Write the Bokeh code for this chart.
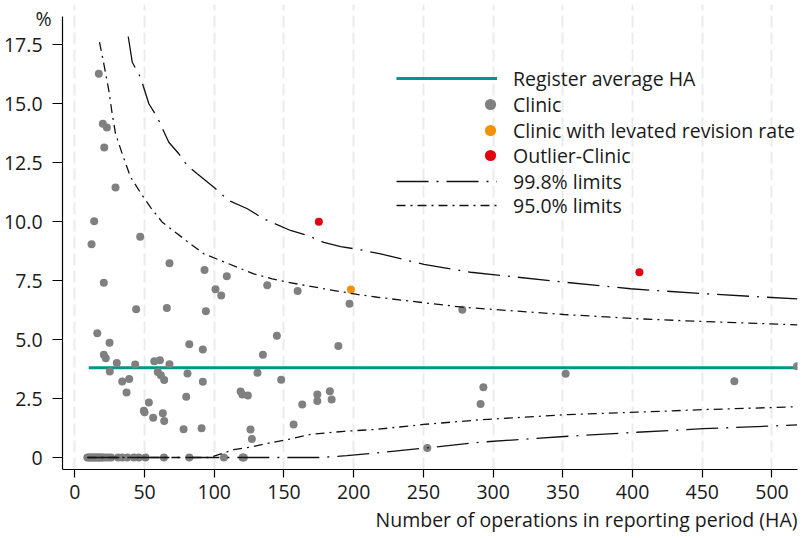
from bokeh.plotting import figure
from bokeh.models import Range1d, FixedTicker, Legend, LegendItem, Label, Title
from bokeh.embed import file_html
from bokeh.resources import INLINE

# ---- data ----
gray_x = [9, 10, 11, 12, 13, 14, 15, 16, 17, 18, 19, 20, 22, 24, 26, 31, 34, 37.6, 42.3, 45.9, 50.7, 63.9, 82.1, 106.9, 120.3, 121.2,
          17.2, 20.1, 23.0, 21.1, 29.2, 13.9, 46.9, 12.0, 20.8, 67.9, 44.0, 66.0, 16.1, 24.9, 20.8, 22.2, 30.1, 43.3, 25.1,
          57.0, 61.0, 67.9, 59.5, 61.7, 64.1, 39.0, 34.0, 37.1, 82.1, 80.8, 79.9, 53.1, 49.5, 50.0, 56.2, 63.1, 64.1, 78.0, 90.9,
          93.0, 109.0, 100.9, 105.0, 138.0, 159.8, 197.0, 94.0, 91.8, 144.9, 134.9, 189.0, 131.0, 91.8, 148.0, 118.9, 120.1,
          124.1, 173.9, 182.9, 173.9, 184.2, 163.1, 156.9, 126.0, 127.0,
          277.9, 518.0, 352.0, 473.0, 293.0, 291.0, 252.8]
gray_y = [0] * 26 + [
          16.26, 14.14, 13.98, 13.14, 11.44, 10.01, 9.35, 9.04, 7.40, 8.23, 6.28, 6.33, 5.27, 4.86, 4.35, 4.21, 4.00, 3.94, 3.64,
          4.08, 4.12, 3.95, 3.62, 3.49, 3.28, 3.33, 3.22, 2.75, 4.80, 3.56, 2.57, 2.33, 1.98, 1.92, 1.68, 1.88, 1.55, 1.20, 1.24,
          7.94, 7.68, 7.13, 6.86, 7.30, 7.06, 6.51, 6.20, 4.58, 5.16, 4.35, 4.72, 3.59, 3.21, 3.29, 2.80, 2.67,
          2.63, 2.67, 2.81, 2.39, 2.46, 2.25, 1.40, 1.19, 0.78,
          6.26, 3.87, 3.55, 3.23, 2.98, 2.27, 0.40]
orange_x = [198.0]
orange_y = [7.12]
red_x = [175.0, 404.9]
red_y = [9.99, 7.85]

avg_x = [10, 518]
avg_y = [3.8, 3.8]

up998_x = [38.3, 41.2, 47.1, 53.1, 59.1, 67.4, 74.6, 80.6, 87.8, 99.7, 110.5, 123.7, 135.6, 154.7, 166.7, 178.6, 190.6,
           204.9, 219.3, 250.4, 283.9, 350.8, 398.6, 451.2, 518.2]
up998_y = [17.84, 16.75, 16.11, 14.99, 14.42, 13.36, 12.87, 12.37, 12.02, 11.45, 10.89, 10.54, 10.11, 9.62, 9.41, 9.12, 8.94,
           8.80, 8.63, 8.18, 7.85, 7.43, 7.15, 6.94, 6.72]
lo998_x = [9, 176, 195, 215, 253, 291, 351, 403, 451, 518]
lo998_y = [0, 0, 0.08, 0.19, 0.41, 0.65, 0.89, 1.07, 1.22, 1.38]

up95_x = [17.7, 20.8, 24.4, 26.8, 29.2, 34, 40, 48.4, 54.3, 62.7, 73.5, 83, 92.5, 104.5, 116.5, 128.4, 141.6, 152.4,
          178.6, 202.6, 216.9, 277.9, 350.8, 403.4, 451.2, 518.2]
up95_y = [17.6, 16.68, 15.55, 14.56, 13.72, 12.87, 11.88, 11.10, 10.6, 9.97, 9.48, 9.05, 8.63, 8.35, 8.06, 7.78, 7.57, 7.43,
          7.15, 6.91, 6.79, 6.37, 6.06, 5.88, 5.76, 5.62]
lo95_x = [9, 97, 114, 126, 140, 155, 169, 193, 216, 250, 291, 351, 403, 451, 518]
lo95_y = [0, 0, 0.33, 0.44, 0.62, 0.79, 0.98, 1.11, 1.19, 1.40, 1.60, 1.81, 1.92, 2.03, 2.15]

x_ticks = [0, 50, 100, 150, 200, 250, 300, 350, 400, 450, 500]
y_ticks = [0, 2.5, 5.0, 7.5, 10.0, 12.5, 15.0, 17.5]
y_tick_labels = ["0", "2.5", "5.0", "7.5", "10.0", "12.5", "15.0", "17.5"]

X_MIN, X_MAX = -8.8, 518.29
Y_MIN, Y_MAX = -0.508, 18.69

FONT = "Open Sans"
FS = "19.5px"
TXT = "#1a1a1a"

p = figure(width=805, height=538, output_backend="svg", toolbar_location=None,
           x_range=Range1d(-50.43, X_MAX), y_range=Range1d(Y_MIN, 19.195),
           min_border_left=4, min_border_right=8, min_border_top=4, min_border_bottom=69)
p.outline_line_color = None
p.background_fill_color = "white"

# grid
p.xgrid.ticker = FixedTicker(ticks=x_ticks)
p.xgrid.grid_line_color = "#ebebeb"
p.xgrid.grid_line_width = 2
p.xgrid.grid_line_dash = "12 5"
p.ygrid.grid_line_color = None

# axes
for ax in (p.xaxis[0], p.yaxis[0]):
    ax.axis_line_color = "black"
    ax.axis_line_width = 1.2
    ax.major_tick_line_color = "black"
    ax.major_tick_line_width = 1.2
    ax.major_tick_in = 0
    ax.minor_tick_line_color = None
    ax.major_label_text_font = FONT
    ax.major_label_text_font_size = FS
    ax.major_label_text_color = TXT

p.xaxis.major_tick_out = 8
p.yaxis.major_tick_out = 10
p.xaxis.bounds = (X_MIN, X_MAX)
p.yaxis.bounds = (Y_MIN, Y_MAX)
p.yaxis.fixed_location = X_MIN
p.xaxis.ticker = FixedTicker(ticks=x_ticks)
p.yaxis.ticker = FixedTicker(ticks=y_ticks)
p.yaxis.major_label_overrides = {t: l for t, l in zip(y_ticks, y_tick_labels)}
p.xaxis.major_label_standoff = 7
p.yaxis.major_label_standoff = 10

p.add_layout(Title(text="Number of operations in reporting period (HA)", align="right",
                   text_font=FONT, text_font_size=FS, text_font_style="normal",
                   text_color=TXT, standoff=4, offset=0), "below")

p.add_layout(Label(x=-22.5, y=18.6, text="%", text_align="center", text_baseline="middle",
                   text_font=FONT, text_font_size=FS, text_color=TXT))

# marks
r_avg = p.line(avg_x, avg_y, line_color="#00968a", line_width=3)
r_gray = p.scatter(gray_x, gray_y, size=8, fill_color="#808080", line_color=None)
r_orange = p.scatter(orange_x, orange_y, size=8, fill_color="#f39200", line_color=None)
r_red = p.scatter(red_x, red_y, size=8, fill_color="#e3000f", line_color=None)

d998 = "32 8 2 8"
d95 = "9 5 2 5"
r_up998 = p.line(up998_x, up998_y, line_color="#111111", line_width=1.3, line_dash=d998)
p.line(lo998_x, lo998_y, line_color="#111111", line_width=1.3, line_dash=d998)
r_up95 = p.line(up95_x, up95_y, line_color="#111111", line_width=1.3, line_dash=d95)
p.line(lo95_x, lo95_y, line_color="#111111", line_width=1.3, line_dash=d95)


def mk_legend(label, renderer, loc, gw, standoff):
    lg = Legend(items=[LegendItem(label=label, renderers=[renderer])], location=loc,
                glyph_width=gw, glyph_height=30, label_height=30,
                label_standoff=standoff, spacing=0, padding=0, margin=0,
                border_line_color=None, background_fill_alpha=0,
                label_text_font=FONT, label_text_font_size=FS, label_text_color=TXT)
    p.add_layout(lg, "center")
    return lg


mk_legend("Register average HA", r_avg, (392, 376), 101, 16)
mk_legend("Clinic", r_gray, (472, 350), 28, 9)
mk_legend("Clinic with levated revision rate", r_orange, (472, 324), 28, 9)
mk_legend("Outlier-Clinic", r_red, (472, 299), 28, 9)
mk_legend("99.8% limits", r_up998, (392, 273), 101, 16)
mk_legend("95.0% limits", r_up95, (392, 249), 101, 16)

open("out.html", "w").write(file_html(p, INLINE))
